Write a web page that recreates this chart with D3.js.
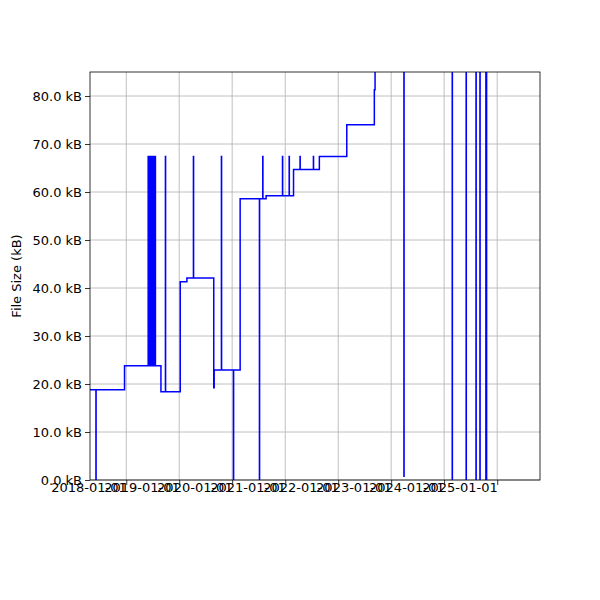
<!DOCTYPE html>
<html>
<head>
<meta charset="utf-8">
<script src="https://cdn.jsdelivr.net/npm/d3@7"></script>
<style>
  body { margin: 0; background: #fff; }
  text { font-family: "DejaVu Sans", sans-serif; }
</style>
</head>
<body>
<div class="chart"></div>
<script>
// level changes (step-after)
const stepDates = ["2017-04-01", "2017-12-20", "2018-08-28", "2019-01-08", "2019-02-23",
    "2019-08-27", "2019-08-30", "2020-02-25", "2020-08-22", "2021-02-27", "2021-08-24",
    "2022-03-01", "2022-09-07", "2022-09-12", "2024-10-28"];
const stepValues = [18.8, 23.8, 18.4, 41.3, 42.1, 19.2, 22.9, 58.6, 59.2, 64.7, 67.4,
    74.0, 81.3, 90, 90];
// short one-off spikes
const spikeDates = ["2017-06-06", "2018-06-01", "2018-06-08", "2018-06-15", "2018-06-22",
    "2018-06-29", "2018-07-06", "2018-07-13", "2018-07-20", "2018-09-28", "2019-04-09",
    "2019-10-19", "2020-01-10", "2020-07-07", "2020-07-30", "2020-12-13", "2021-01-28",
    "2021-04-13", "2021-07-14", "2023-03-30", "2024-02-26", "2024-06-01", "2024-08-08",
    "2024-09-04", "2024-10-15", "2024-10-19"];
const spikeValues = [0, 67.4, 67.4, 67.4, 67.4, 67.4, 67.4, 67.4, 67.4, 67.4, 67.4,
    67.4, 0, 0, 67.4, 67.4, 67.4, 67.4, 67.4, 0.8, 0, 0, 0, 0, 0, 0];
const yTicks = [0, 10, 20, 30, 40, 50, 60, 70, 80];
const xTicks = ["2018-01-01", "2019-01-01", "2020-01-01", "2021-01-01", "2022-01-01",
    "2023-01-01", "2024-01-01", "2025-01-01"];

const parse = d3.timeParse("%Y-%m-%d");
const levelAt = t => {
    let v = stepValues[0];
    stepDates.forEach((d, i) => { if (parse(d) <= t) v = stepValues[i]; });
    return v;
};
let points = stepDates.map((d, i) => [parse(d), stepValues[i]]);
spikeDates.forEach((d, i) => {
    const t = parse(d), t2 = d3.timeDay.offset(t, 1);
    points.push([t, spikeValues[i]]);
    points.push([t2, levelAt(t2)]);
});
points.sort((a, b) => a[0] - b[0]);

const w = 600, h = 600,
    mLeft = 90, mRight = 540, mTop = 72, mBottom = 480;

const xScale = d3.scaleTime()
    .domain([parse("2017-04-26"), parse("2025-10-23")])
    .range([mLeft, mRight]);
const yScale = d3.scaleLinear()
    .domain([0, 85])
    .range([mBottom, mTop]);

const svg = d3.select(".chart").append("svg")
    .attr("width", w)
    .attr("height", h);

// grid
svg.append("g").selectAll("line").data(xTicks).enter().append("line")
    .attr("x1", d => xScale(parse(d))).attr("x2", d => xScale(parse(d)))
    .attr("y1", mTop).attr("y2", mBottom)
    .attr("stroke", "#b0b0b0").attr("stroke-width", 0.8);
svg.append("g").selectAll("line").data(yTicks).enter().append("line")
    .attr("x1", mLeft).attr("x2", mRight)
    .attr("y1", d => yScale(d)).attr("y2", d => yScale(d))
    .attr("stroke", "#b0b0b0").attr("stroke-width", 0.8);

svg.append("clipPath").attr("id", "clip").append("rect")
    .attr("x", mLeft).attr("y", mTop).attr("width", mRight - mLeft).attr("height", mBottom - mTop);

const line = d3.line()
    .x(d => xScale(d[0]))
    .y(d => yScale(d[1]))
    .curve(d3.curveStepAfter);

svg.append("path")
    .datum(points)
    .attr("clip-path", "url(#clip)")
    .attr("d", line)
    .attr("fill", "none")
    .attr("stroke", "#0000ff")
    .attr("stroke-width", 1.5);

const xAxis = d3.axisBottom(xScale)
    .tickValues(xTicks.map(parse))
    .tickFormat(d3.timeFormat("%Y-%m-%d"))
    .tickSizeOuter(0).tickSize(5);
const yAxis = d3.axisLeft(yScale)
    .tickValues(yTicks)
    .tickFormat(d => d.toFixed(1) + " kB")
    .tickSizeOuter(0).tickSize(5);

const gx = svg.append("g")
    .attr("transform", "translate(0," + mBottom + ")")
    .call(xAxis);
gx.selectAll("text")
    .attr("font-size", 13)
    .attr("fill", "#000")
    .attr("text-anchor", "end")
    .attr("dy", "0.3em")
    .attr("transform", function () {
        return "translate(-4,4) rotate(-30," + this.getAttribute("x") + "," + this.getAttribute("y") + ")";
    });
const gy = svg.append("g")
    .attr("transform", "translate(" + mLeft + ",0)")
    .call(yAxis);
gy.selectAll("text").attr("font-size", 13).attr("fill", "#000");
svg.selectAll(".domain").remove();
svg.selectAll(".tick line").attr("stroke", "#000").attr("stroke-width", 0.8);

svg.append("rect")
    .attr("x", mLeft).attr("y", mTop)
    .attr("width", mRight - mLeft).attr("height", mBottom - mTop)
    .attr("fill", "none").attr("stroke", "#000").attr("stroke-width", 0.8);

svg.append("text")
    .attr("transform", "rotate(-90)")
    .attr("x", -(mTop + mBottom) / 2)
    .attr("y", 21)
    .attr("text-anchor", "middle")
    .attr("font-size", 13)
    .text("File Size (kB)");
</script>
</body>
</html>
